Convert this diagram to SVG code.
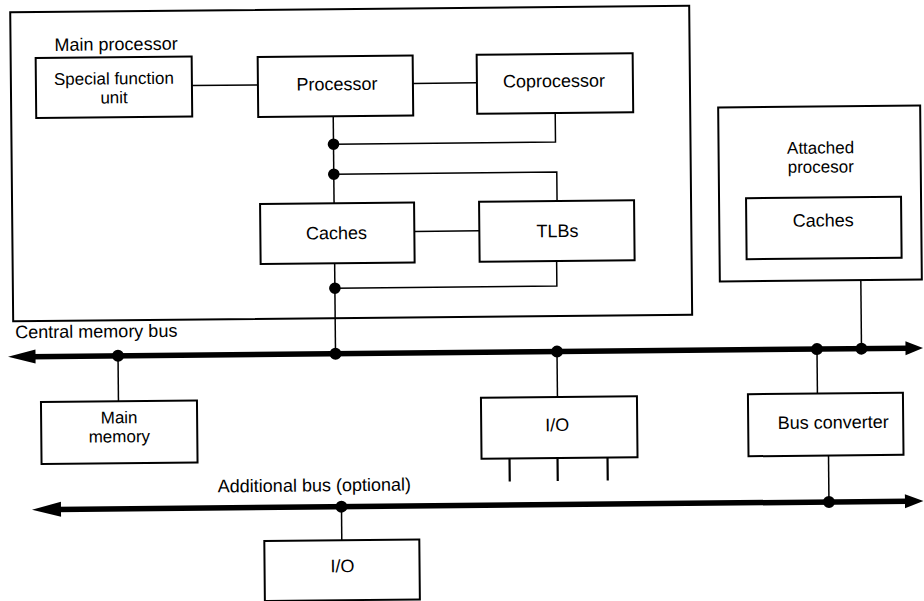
<svg xmlns="http://www.w3.org/2000/svg" width="924" height="601" viewBox="0 0 924 601">
<style>
.box{fill:#fff;stroke:#000;stroke-width:2}
.outer{fill:none;stroke:#000;stroke-width:2}
.wire{fill:none;stroke:#000;stroke-width:1.5}
.stub{fill:none;stroke:#000;stroke-width:2.2}
.bus{fill:none;stroke:#000;stroke-width:5.5}
.dot{fill:#000}
.head{fill:#000}
text{font-family:"Liberation Sans",Arial,sans-serif;font-size:18px;fill:#000}
.c{text-anchor:middle}
.two{font-size:17px}
</style>
<rect width="924" height="601" fill="#fff"/>
<g transform="rotate(-0.55 462 300)">
  <g id="main-processor">
    <rect class="outer" x="13" y="8" width="679" height="309"/>
    <text x="57" y="47">Main processor</text>
  </g>
  <g id="special-function-unit">
    <rect class="box" x="38" y="54" width="156" height="60"/>
    <text class="c two" x="116" y="81">Special function</text>
    <text class="c two" x="116" y="100">unit</text>
  </g>
  <g id="processor">
    <rect class="box" x="260" y="55" width="155" height="60"/>
    <text class="c" x="339" y="89">Processor</text>
  </g>
  <g id="coprocessor">
    <rect class="box" x="479" y="55" width="156" height="59"/>
    <text class="c" x="556" y="88">Coprocessor</text>
  </g>
  <g id="caches">
    <rect class="box" x="261" y="202" width="154" height="60"/>
    <text class="c" x="337" y="238">Caches</text>
  </g>
  <g id="tlbs">
    <rect class="box" x="480" y="202" width="155" height="60"/>
    <text class="c" x="558" y="238">TLBs</text>
  </g>
  <g id="attached-processor">
    <rect class="box" x="720" y="110" width="202" height="174"/>
    <text class="c two" x="822" y="157">Attached</text>
    <text class="c two" x="822" y="176">procesor</text>
  </g>
  <g id="attached-caches">
    <rect class="box" x="747" y="201" width="155" height="61"/>
    <text class="c" x="824" y="230">Caches</text>
  </g>
  <g id="main-memory">
    <rect class="box" x="40" y="398" width="156" height="62"/>
    <text class="c two" x="118" y="420">Main</text>
    <text class="c two" x="118" y="439">memory</text>
  </g>
  <g id="io-central">
    <rect class="box" x="480" y="398" width="156" height="61"/>
    <text class="c" x="556" y="432">I/O</text>
  </g>
  <g id="bus-converter">
    <rect class="box" x="747" y="397" width="155" height="62"/>
    <text class="c" x="832" y="432">Bus converter</text>
  </g>
  <g id="io-additional">
    <rect class="box" x="262" y="539" width="155" height="60"/>
    <text class="c" x="340" y="571">I/O</text>
  </g>
  <g id="central-memory-bus">
    <path class="bus" d="M30 352.5 H908"/>
    <polygon class="head" points="7.5,352.5 35,345.5 35,359.5"/>
    <polygon class="head" points="922.5,352.5 905,345.5 905,359.5"/>
    <text x="15" y="334">Central memory bus</text>
  </g>
  <g id="additional-bus">
    <path class="bus" d="M55 505.5 H906"/>
    <polygon class="head" points="30,505.5 59,498 59,513"/>
    <polygon class="head" points="921.5,505.5 903,498.5 903,512.5"/>
    <text x="216" y="490">Additional bus (optional)</text>
  </g>
  <g id="connectors">
    <path class="wire" d="M194 83 H260"/>
    <path class="wire" d="M415 83 H479"/>
    <path class="wire" d="M335 115 V202"/>
    <path class="wire" d="M557 114 V143 H335"/>
    <path class="wire" d="M335 173 H558 V202"/>
    <path class="wire" d="M415 231 H480"/>
    <path class="wire" d="M335 262 V352.5"/>
    <path class="wire" d="M557 262 V287 H335"/>
    <path class="wire" d="M117.5 352.5 V398"/>
    <path class="wire" d="M556.5 352.5 V398"/>
    <path class="stub" d="M508 459 V482 M556 459 V482 M606 459 V482"/>
    <path class="wire" d="M816.5 352.5 V397"/>
    <path class="wire" d="M861 284 V352.5"/>
    <path class="wire" d="M827 459 V505.5"/>
    <path class="wire" d="M339.5 505.5 V539"/>
    <circle class="dot" cx="335" cy="143" r="5.8"/>
    <circle class="dot" cx="335" cy="173" r="5.8"/>
    <circle class="dot" cx="335" cy="287" r="5.8"/>
    <circle class="dot" cx="117.5" cy="352.5" r="6"/>
    <circle class="dot" cx="335" cy="352.5" r="6"/>
    <circle class="dot" cx="556.5" cy="352.5" r="6"/>
    <circle class="dot" cx="816.5" cy="352.5" r="6"/>
    <circle class="dot" cx="861" cy="352.5" r="6"/>
    <circle class="dot" cx="339.5" cy="505.5" r="6"/>
    <circle class="dot" cx="827" cy="505.5" r="6"/>
  </g>
</g>
</svg>
